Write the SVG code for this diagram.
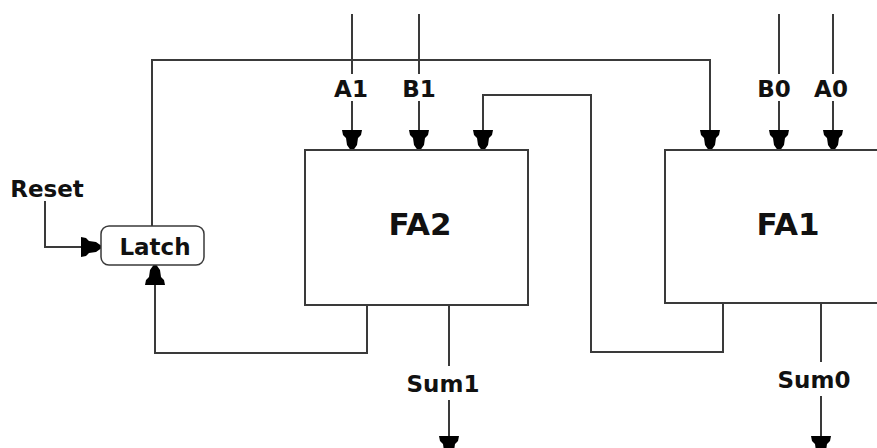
<svg xmlns="http://www.w3.org/2000/svg" width="877" height="448" viewBox="0 0 877 448">
<style>
.w{fill:none;stroke:#3a3a3a;stroke-width:2}
.box{fill:#fff;stroke:#3a3a3a;stroke-width:2}
.t{font-family:"DejaVu Sans",Verdana,sans-serif;font-weight:bold;fill:#111}
.s{font-size:23px}
.b{font-size:31px}
.ah{fill:#000}
</style>
<defs>
<path id="ad" d="M-10,-20 H10 L9,-15 L6,-12 L5,-5 L1.5,0 H-1.5 L-5,-5 L-6,-12 L-9,-15 Z"/>
</defs>
<rect width="877" height="448" fill="#fff"/>
<g id="connectors">
<polyline class="w" points="152,226 152,60 710,60 710,140"/>
<line class="w" x1="352" y1="14" x2="352" y2="74"/>
<line class="w" x1="352" y1="101" x2="352" y2="140"/>
<line class="w" x1="419" y1="14" x2="419" y2="74"/>
<line class="w" x1="419" y1="101" x2="419" y2="140"/>
<line class="w" x1="779" y1="14" x2="779" y2="74"/>
<line class="w" x1="779" y1="101" x2="779" y2="140"/>
<line class="w" x1="833" y1="14" x2="833" y2="74"/>
<line class="w" x1="833" y1="101" x2="833" y2="140"/>
<polyline class="w" points="723,303 723,352 591,352 591,95 483,95 483,140"/>
<polyline class="w" points="367,305 367,353 155,353 155,275"/>
<polyline class="w" points="45,201 45,247 91,247"/>
<line class="w" x1="449" y1="305" x2="449" y2="366"/>
<line class="w" x1="449" y1="400" x2="449" y2="445"/>
<line class="w" x1="821" y1="303" x2="821" y2="362"/>
<line class="w" x1="821" y1="396" x2="821" y2="445"/>
<use href="#ad" class="ah" transform="translate(710,150)"/>
<use href="#ad" class="ah" transform="translate(352,150)"/>
<use href="#ad" class="ah" transform="translate(419,150)"/>
<use href="#ad" class="ah" transform="translate(483,150)"/>
<use href="#ad" class="ah" transform="translate(779,150)"/>
<use href="#ad" class="ah" transform="translate(833,150)"/>
<use href="#ad" class="ah" transform="translate(155,265) rotate(180)"/>
<use href="#ad" class="ah" transform="translate(101,247) rotate(-90)"/>
<use href="#ad" class="ah" transform="translate(449,456)"/>
<use href="#ad" class="ah" transform="translate(821,456)"/>
</g>
<g id="fa2">
<rect class="box" x="305" y="150" width="223" height="155"/>
<text class="t b" x="420" y="235" text-anchor="middle">FA2</text>
</g>
<g id="fa1">
<rect class="box" x="665" y="150" width="230" height="153"/>
<text class="t b" x="788" y="235" text-anchor="middle">FA1</text>
</g>
<g id="latch">
<rect class="box" x="101" y="226" width="103" height="39" rx="8" style="stroke-width:1.5"/>
<text class="t s" x="155" y="255" text-anchor="middle">Latch</text>
</g>
<g id="labels">
<text class="t s" x="47" y="197" text-anchor="middle">Reset</text>
<text class="t s" x="351" y="97" text-anchor="middle">A1</text>
<text class="t s" x="419" y="97" text-anchor="middle">B1</text>
<text class="t s" x="774" y="97" text-anchor="middle">B0</text>
<text class="t s" x="831" y="97" text-anchor="middle">A0</text>
<text class="t s" x="443" y="392" text-anchor="middle">Sum1</text>
<text class="t s" x="814" y="388" text-anchor="middle">Sum0</text>
</g>
</svg>
